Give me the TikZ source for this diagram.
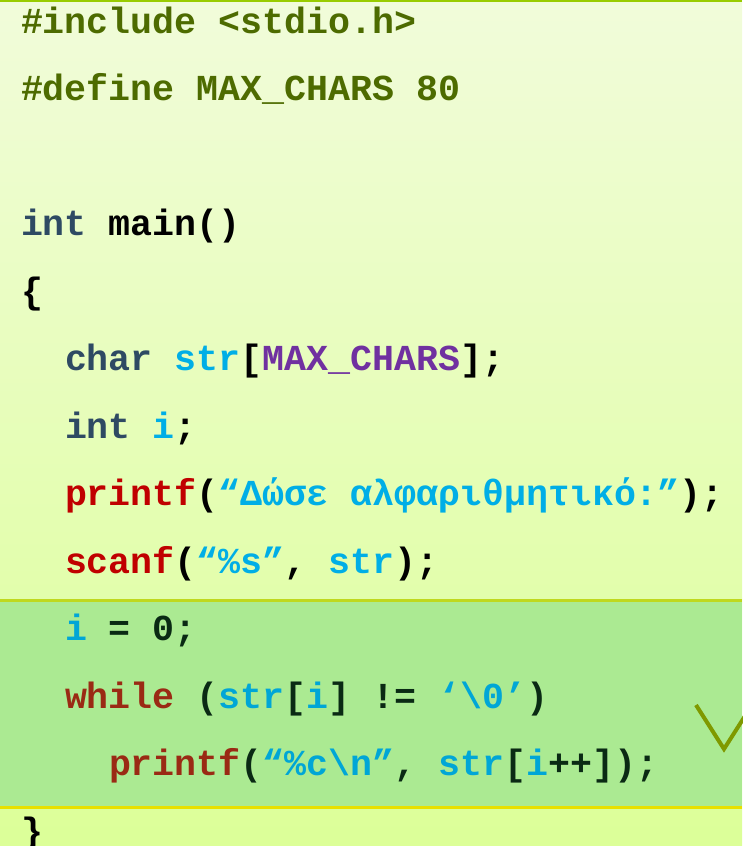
\documentclass[tikz,border=0pt]{standalone}
\usepackage{fontspec}
\newfontfamily\codefont{Liberation Mono}[BoldFont={Liberation Mono Bold}]
\definecolor{bgtop}{HTML}{F1FCDA}
\definecolor{bgbot}{HTML}{DCFF98}
\definecolor{topline}{HTML}{99CC00}
\definecolor{hlfill}{HTML}{ABEA92}
\definecolor{hltop}{HTML}{BFD81E}
\definecolor{hlbot}{HTML}{E8E000}
\definecolor{pp}{HTML}{4D6B00}
\definecolor{kw}{HTML}{2E4A63}
\definecolor{var}{HTML}{00AEE6}
\definecolor{mac}{HTML}{7030A0}
\definecolor{fn}{HTML}{C00000}
\definecolor{hlkw}{HTML}{9A2A14}
\definecolor{hlvar}{HTML}{00A6D6}
\definecolor{hlpun}{HTML}{0A2A14}
\definecolor{tick}{HTML}{7F9900}
\tikzset{
  codeline/.style={anchor=base west, inner sep=0pt, outer sep=0pt,
    font=\codefont\bfseries\fontsize{36.6}{40}\selectfont},
}
\begin{document}
\begin{tikzpicture}[x=1pt,y=-1pt]
\useasboundingbox (0,0) rectangle (742,846);
% background
\shade[top color=bgtop, bottom color=bgbot] (0,0) rectangle (742,846);
\fill[topline] (0,0) rectangle (742,2);
% highlight band
\fill[hlfill] (0,599) rectangle (742,808);
\fill[hltop] (0,599) rectangle (742,601.5);
\fill[hlbot] (0,806) rectangle (742,808.5);
% code lines
\node[codeline] (l0) at (21,33) {\textcolor{pp}{\#include <stdio.h>}};
\node[codeline] (l1) at (21,100.5) {\textcolor{pp}{\#define MAX\_CHARS 80}};
\node[codeline] (l3) at (21,235.5) {\textcolor{kw}{int} main()};
\node[codeline] (l4) at (21,303) {\{};
\node[codeline] (l5) at (65,370.5) {\textcolor{kw}{char} \textcolor{var}{str}[\textcolor{mac}{MAX\_CHARS}];};
\node[codeline] (l6) at (65,438) {\textcolor{kw}{int} \textcolor{var}{i};};
\node[codeline] (l7) at (65,505.5) {\textcolor{fn}{printf}(\textcolor{var}{“Δώσε αλφαριθμητικό:”});};
\node[codeline] (l8) at (65,573) {\textcolor{fn}{scanf}(\textcolor{var}{“\%s”}, \textcolor{var}{str});};
\node[codeline, text=hlpun] (l9) at (65,640.5) {\textcolor{hlvar}{i} = 0;};
\node[codeline, text=hlpun] (l10) at (65,708) {\textcolor{hlkw}{while} (\textcolor{hlvar}{str}[\textcolor{hlvar}{i}] != \textcolor{hlvar}{‘\textbackslash 0’})};
\node[codeline, text=hlpun] (l11) at (109,775.5) {\textcolor{hlkw}{printf}(\textcolor{hlvar}{“\%c\textbackslash n”}, \textcolor{hlvar}{str}[\textcolor{hlvar}{i}++]);};
\node[codeline] (l12) at (21,843) {\}};
% tick mark
\draw[tick, line width=4pt] (696,705) -- (724,749) -- (752,705);
\end{tikzpicture}
\end{document}
